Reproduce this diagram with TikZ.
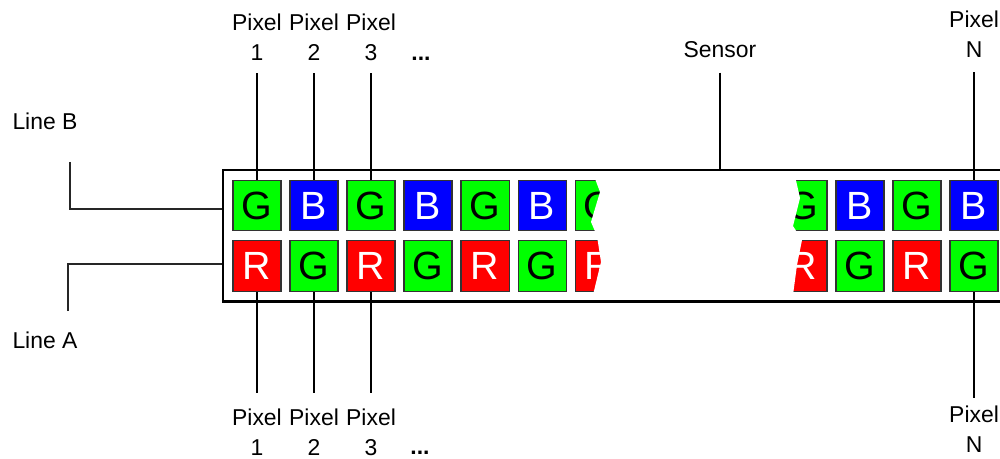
\documentclass[tikz,border=0pt]{standalone}
\usepackage{fontspec}
\setmainfont{Liberation Sans}
\usetikzlibrary{positioning,fit,calc}
\newcommand{\lblfont}{\fontsize{16.3}{21.3}\selectfont}
\newcommand{\sqfont}{\fontsize{28}{30}\selectfont}

\begin{document}
\begin{tikzpicture}[x=0.025cm,y=-0.025cm,node distance=0.2475cm and 0.225cm,
  sq/.style={rectangle,draw=black!80,line width=0.8pt,minimum width=1.2cm,minimum height=1.27cm,inner sep=0pt,outer sep=0pt,font=\sqfont},
  gsq/.style={sq,fill=green},
  bsq/.style={sq,fill=blue,text=white},
  rsq/.style={sq,fill=red,text=white},
  toplabel/.style={align=center,inner xsep=0pt,inner ysep=0.3cm,font=\lblfont},
  botlabel/.style={toplabel,inner ysep=0.4cm},
  textlabel/.style={inner sep=0pt,font=\lblfont},
  sensorbox/.style={draw,line width=1.8pt,inner sep=0.25cm},
  pixline/.style={line width=1.4pt},
  wire/.style={line width=1.2pt,draw=black!85}]

  \useasboundingbox (0,0) rectangle (1000,459);

  % line B
  \node [gsq] (b1) at (257,205.5) {G};
  \node [bsq] (b2) [right=of b1] {B};
  \node [gsq] (b3) [right=of b2] {G};
  \node [bsq] (b4) [right=of b3] {B};
  \node [gsq] (b5) [right=of b4] {G};
  \node [bsq] (b6) [right=of b5] {B};
  \node [gsq] (b7) [right=of b6] {G};
  \node [gsq] (b8) at (803,205.5) {G};
  \node [bsq] (b9) [right=of b8] {B};
  \node [gsq] (b10) [right=of b9] {G};
  \node [bsq] (b11) [right=of b10] {B};

  % line A
  \node [rsq] (a1) [below=of b1] {R};
  \node [gsq] (a2) [below=of b2] {G};
  \node [rsq] (a3) [below=of b3] {R};
  \node [gsq] (a4) [below=of b4] {G};
  \node [rsq] (a5) [below=of b5] {R};
  \node [gsq] (a6) [below=of b6] {G};
  \node [rsq] (a7) [below=of b7] {R};
  \node [rsq] (a8) [below=of b8] {R};
  \node [gsq] (a9) [below=of b9] {G};
  \node [rsq] (a10) [below=of b10] {R};
  \node [gsq] (a11) [below=of b11] {G};

  % torn gap
  \fill [white] (594,176) -- (600,192) -- (591,222) -- (597,236) -- (601,262) -- (593,295)
    -- (793,295) -- (797,265) -- (802,240) -- (793,226) -- (800,198) -- (795,176) -- cycle;

  \node [sensorbox,fit=(b1)(a1)(b11)(a11)] (sensor) {};

  \node [toplabel] (tp1) [above=2.675cm of b1] {Pixel\\1};
  \node [toplabel] (tp2) [above=2.675cm of b2] {Pixel\\2};
  \node [toplabel] (tp3) [above=2.675cm of b3] {Pixel\\3};
  \node [toplabel,inner ysep=0.35cm] (tpN) [above=2.7cm of b11] {Pixel\\N};
  \node [botlabel] (bp1) [below=2.525cm of a1] {Pixel\\1};
  \node [botlabel] (bp2) [below=2.525cm of a2] {Pixel\\2};
  \node [botlabel] (bp3) [below=2.525cm of a3] {Pixel\\3};
  \node [botlabel,inner ysep=0.2cm] (bpN) [below=2.65cm of a11] {Pixel\\N};
  \node [textlabel,anchor=base] (tdots) at (421,61) {\textbf{...}};
  \node [textlabel,anchor=base] (bdots) at (420,454) {\textbf{...}};
  \node [textlabel,inner ysep=0.35cm,anchor=base] (sens) at (720,58) {Sensor};
  \node [textlabel,anchor=base] (lineB) at (45,130) {Line B};
  \node [textlabel,anchor=base] (lineA) at (45,348) {Line A};
  \coordinate (lB) at (70,162);
  \coordinate (lA) at (68,311);

  \draw [pixline] (tp1) -- (b1);
  \draw [pixline] (tp2) -- (b2);
  \draw [pixline] (tp3) -- (b3);
  \draw [pixline] (tpN) -- (b11);
  \draw [pixline] (bp1) -- (a1);
  \draw [pixline] (bp2) -- (a2);
  \draw [pixline] (bp3) -- (a3);
  \draw [pixline] (bpN) -- (a11);
  \draw [pixline] (sens) -- (sens |- sensor.north);
  \draw [wire] (lB) |- ($(sensor.west |- b1)+(0,3.5)$);
  \draw [wire] (lA) |- ($(sensor.west |- a1)+(0,-2)$);
\end{tikzpicture}
\end{document}
